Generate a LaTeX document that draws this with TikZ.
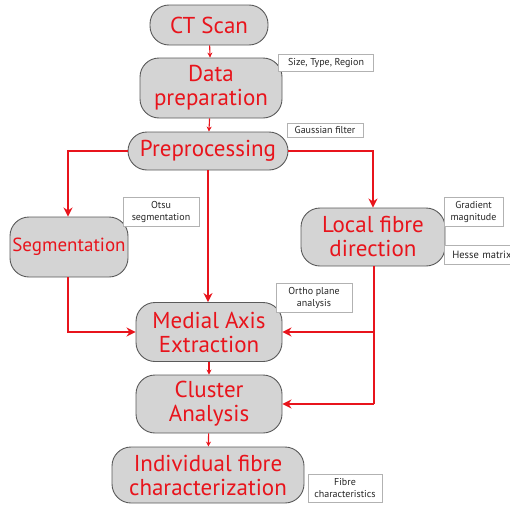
\documentclass[tikz,border=0pt]{standalone}
\usepackage{fontspec}
\setmainfont{PT Sans}
\usetikzlibrary{arrows.meta}
\definecolor{fred}{HTML}{E8141C}
\definecolor{fgray}{HTML}{D4D4D4}
\definecolor{fedge}{HTML}{5A5A5A}
\tikzset{
  stepbox/.style={draw=fedge, line width=0.9pt, fill=fgray, rounded corners=19pt,
    text=fred, align=center, font=\fontsize{23}{24}\selectfont, inner sep=0pt},
  notebox/.style={draw=black!30, line width=0.6pt, fill=white, align=center,
    font=\fontsize{10}{12}\selectfont, text=black!85, inner sep=1pt},
  flow/.style={draw=fred, line width=1.6pt, -{Stealth[length=9pt,width=9pt]}},
  tiny/.style={draw=fred, line width=1.1pt, -{Stealth[length=5pt,width=5pt]}}
}
\begin{document}
\begin{tikzpicture}[x=1pt,y=-1pt]
\useasboundingbox (0,0) rectangle (510,506);
\node[stepbox, minimum width=118pt, minimum height=40pt] (ct) at (209,25) {CT Scan};
\node[stepbox, minimum width=142pt, minimum height=60pt] (data) at (211,88) {Data\\preparation};
\node[stepbox, minimum width=160pt, minimum height=38pt] (pre) at (208,151) {Preprocessing};
\node[stepbox, minimum width=118pt, minimum height=60pt, font=\fontsize{19}{20}\selectfont] (seg) at (69,247) {Segmentation};
\node[stepbox, minimum width=144pt, minimum height=58pt] (lfd) at (373,237) {Local fibre\\direction};
\node[stepbox, minimum width=146pt, minimum height=59pt] (med) at (209,332) {Medial Axis\\Extraction};
\node[stepbox, minimum width=146pt, minimum height=58pt] (clu) at (209,404) {Cluster\\Analysis};
\node[stepbox, minimum width=192pt, minimum height=56pt] (ind) at (208,475) {Individual fibre\\characterization};

\node[notebox, minimum width=95pt, minimum height=17pt] (n1) at (326,63) {Size, Type, Region};
\node[notebox, minimum width=76pt, minimum height=14pt] (n2) at (325,130) {Gaussian filter};
\node[notebox, minimum width=76pt, minimum height=29pt] (n3) at (161,212) {Otsu\\segmentation};
\node[notebox, minimum width=59pt, minimum height=29pt] (n4) at (473.5,211.5) {Gradient\\magnitude};
\node[notebox, minimum width=80pt, minimum height=19pt, anchor=west, text width=76pt, align=left, font=\fontsize{10.5}{12}\selectfont] (n5) at (444,254.5) {\hspace*{6pt}Hesse matrix};
\node[notebox, minimum width=76pt, minimum height=29pt] (n6) at (314,297.5) {Ortho plane\\analysis};
\node[notebox, minimum width=74pt, minimum height=28pt] (n7) at (345,488) {Fibre\\characteristics};

\coordinate (segtop) at (68,151);
\coordinate (lfdtop) at (373,151);
\coordinate (segbot) at (68,332);
\coordinate (rmed) at (374,332);
\coordinate (rclu) at (374,404);

\draw[tiny] (ct) -- (data);
\draw[tiny] (data) -- (pre);
\draw[tiny] (med) -- (clu);
\draw[tiny] (clu) -- (ind);

\draw[flow] (pre.west) -- (segtop) -- (seg.north -| segtop);
\draw[flow] (pre.east) -- (lfdtop) -- (lfd.north);
\draw[flow] (pre.south) -- (med.north -| pre.south);
\draw[flow] (seg.south -| segbot) -- (segbot) -- (med.west);
\draw[draw=fred, line width=1.6pt] (lfd.south -| rmed) -- (rclu);
\draw[flow] (rmed) -- (med.east);
\draw[flow] (rclu) -- (clu.east);
\end{tikzpicture}
\end{document}
